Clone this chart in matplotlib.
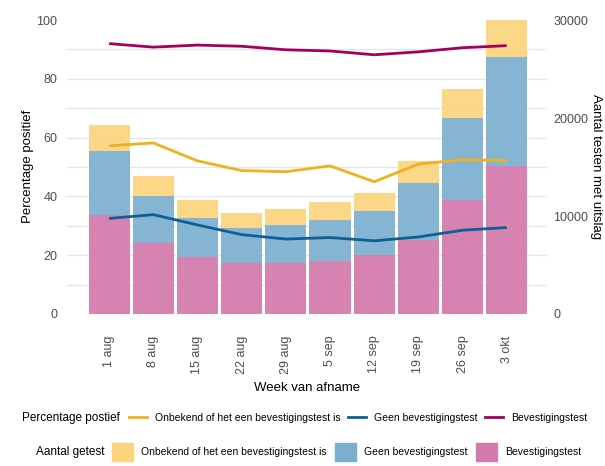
import matplotlib
matplotlib.use("Agg")
import matplotlib.pyplot as plt
import numpy as np
from matplotlib.lines import Line2D
from matplotlib.patches import Patch
from matplotlib.ticker import FixedLocator

plt.rcParams['font.family'] = ['Liberation Sans', 'DejaVu Sans']

weeks = ["1 aug", "8 aug", "15 aug", "22 aug", "29 aug", "5 sep", "12 sep", "19 sep", "26 sep", "3 okt"]

# Aantal getest (counts, right axis)
n_bevestiging = [10080, 7290, 5850, 5160, 5160, 5400, 5970, 7590, 11670, 15060]
n_geen = [6600, 4740, 3990, 3600, 3960, 4230, 4530, 5760, 8340, 11190]
n_onbekend = [2640, 2010, 1830, 1590, 1590, 1770, 1830, 2310, 3000, 3780]

# Percentage positief (left axis)
pct_onbekend = [57.2, 58.2, 52.1, 48.8, 48.4, 50.4, 45.0, 51.0, 52.5, 52.2]
pct_geen = [32.5, 33.8, 30.3, 27.0, 25.5, 26.0, 24.9, 26.2, 28.5, 29.4]
pct_bevestiging = [92.0, 90.8, 91.5, 91.1, 89.9, 89.5, 88.2, 89.2, 90.6, 91.3]

c_bar_y = "#FDD47E"
c_bar_b = "#7BAFCF"
c_bar_p = "#D479AC"
c_line_y = "#F0B020"
c_line_b = "#0E5F96"
c_line_p = "#A3005E"

fig = plt.figure(figsize=(6.05, 4.66), dpi=100)
ax = fig.add_axes([0.111, 0.296, 0.793, 0.693])
ax2 = ax.twinx()
ax.set_zorder(ax2.get_zorder() + 1)
ax.patch.set_visible(False)

x = np.arange(len(weeks))
w = 0.93
b1 = np.array(n_bevestiging)
b2 = b1 + np.array(n_geen)
ax2.bar(x, n_bevestiging, width=w, color=c_bar_p, alpha=0.92, zorder=3, linewidth=0)
ax2.bar(x, n_geen, bottom=b1, width=w, color=c_bar_b, alpha=0.92, zorder=3, linewidth=0)
ax2.bar(x, n_onbekend, bottom=b2, width=w, color=c_bar_y, alpha=0.92, zorder=3, linewidth=0)

ax.plot(x, pct_onbekend, color=c_line_y, lw=2.0, solid_capstyle='butt')
ax.plot(x, pct_geen, color=c_line_b, lw=2.0, solid_capstyle='butt')
ax.plot(x, pct_bevestiging, color=c_line_p, lw=2.0, solid_capstyle='butt')

ax.set_xlim(-0.95, 9.91)
ax.set_ylim(-4.8, 105.1)
ax2.set_ylim(-4.8 * 300, 105.1 * 300)

ax.set_yticks([0, 20, 40, 60, 80, 100])
ax2.yaxis.set_major_locator(FixedLocator([0, 10000, 20000, 30000]))
ax2.yaxis.set_minor_locator(FixedLocator([i * 3000 for i in range(11)]))
ax2.grid(which='minor', axis='y', color='#E6E6E6', lw=1.0, zorder=0)
ax2.grid(which='major', axis='y', visible=False)
ax2.set_axisbelow(True)
ax.set_xticks(x)
ax.set_xticklabels(weeks, rotation=90, va='top', ha='center')
ax2.xaxis.grid(True, color='#E6E6E6', lw=1.0, zorder=0)

for a in (ax, ax2):
    for s in a.spines.values():
        s.set_visible(False)
    a.tick_params(length=0, labelsize=9, colors='#4D4D4D', which='both')
ax.tick_params(axis='y', pad=7)
ax.tick_params(axis='x', pad=5.5)
ax2.tick_params(axis='y', pad=4.5)

ax.set_ylabel("Percentage positief", fontsize=9.5, va='center', ha='center')
ax.yaxis.set_label_coords((28 - 67) / 480, 0.5)
ax.set_xlabel("Week van afname", fontsize=9.5, labelpad=5.5)
ax2.set_ylabel("Aantal testen met uitslag", fontsize=9.5, rotation=270, va='center', ha='center')
ax2.yaxis.set_label_coords((596 - 67) / 480, 0.5)

# Legends
l1 = ["Onbekend of het een bevestigingstest is", "Geen bevestigingstest", "Bevestigingstest"]

fig.text(120 / 605, 1 - 418 / 466, "Percentage postief", ha='right', va='center', fontsize=8.5)
h1 = [Line2D([], [], color=c_line_y, lw=2), Line2D([], [], color=c_line_b, lw=2), Line2D([], [], color=c_line_p, lw=2)]
leg1 = fig.legend(h1, l1, loc='center left', bbox_to_anchor=(124 / 605, 1 - 418 / 466), ncol=3, frameon=False,
                  fontsize=7.5, handlelength=1.7, handletextpad=0.8, columnspacing=0.7, borderpad=0)

fig.text(105 / 605, 1 - 452 / 466, "Aantal getest", ha='right', va='center', fontsize=8.5)
h2 = [Patch(color=c_bar_y), Patch(color=c_bar_b), Patch(color=c_bar_p)]
leg2 = fig.legend(h2, l1, loc='center left', bbox_to_anchor=(107 / 605, 1 - 452 / 466), ncol=3, frameon=False,
                  fontsize=7.5, handlelength=2.0, handleheight=2.2, handletextpad=0.8, columnspacing=0.8, borderpad=0)

fig.savefig("out.png", dpi=100)
